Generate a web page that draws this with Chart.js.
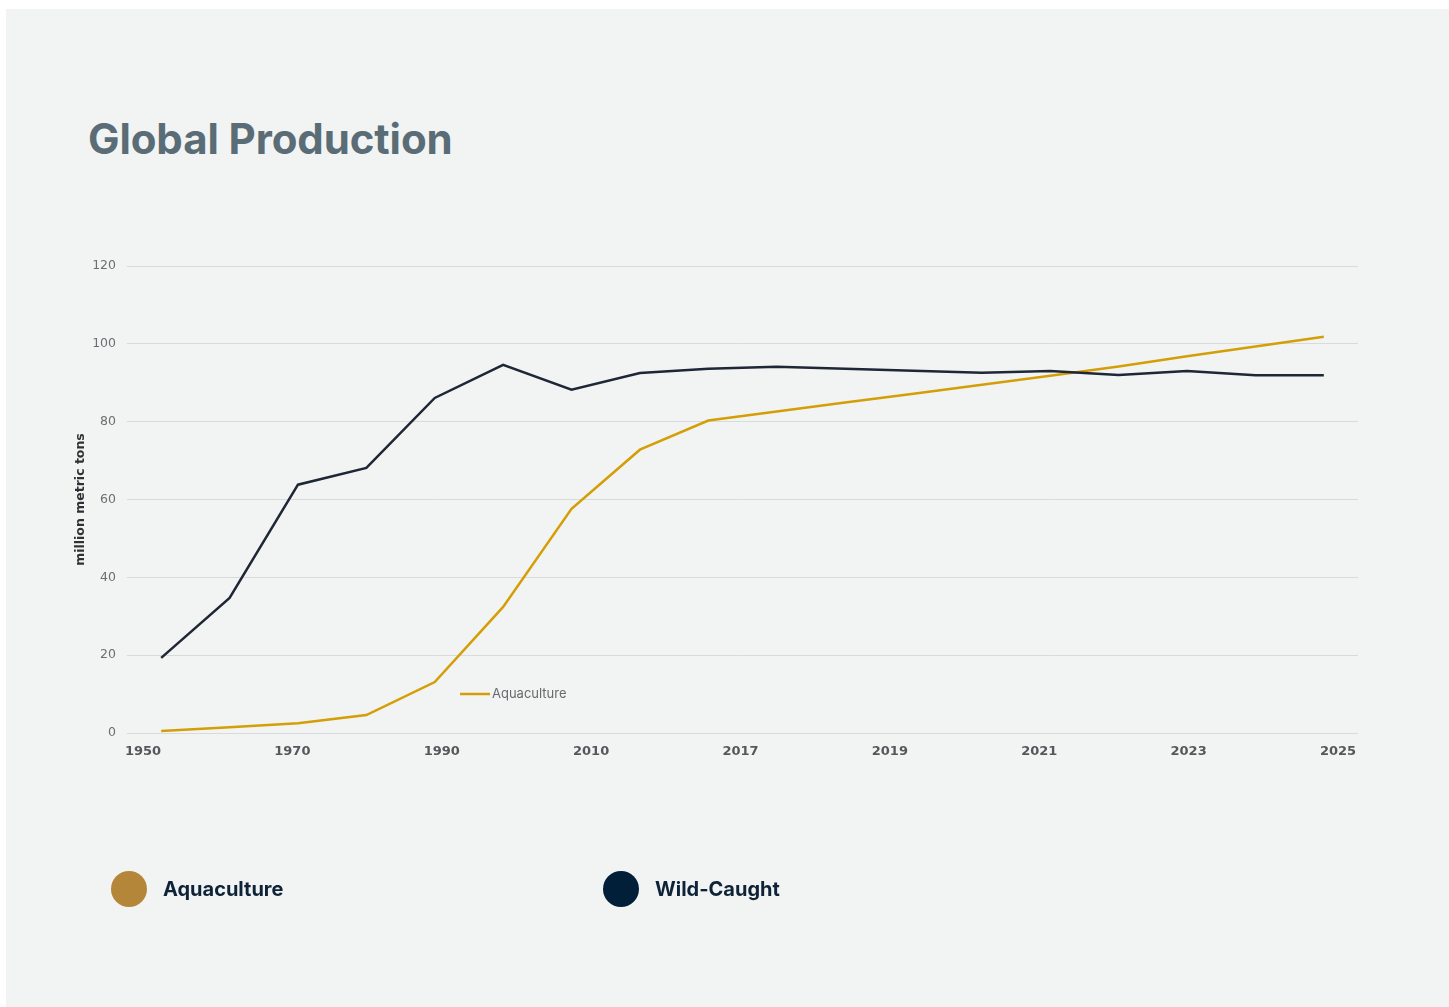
<!DOCTYPE html>
<html>
<head>
<meta charset="utf-8">
<script src="https://cdn.jsdelivr.net/npm/chart.js@4.4.1/dist/chart.umd.min.js"></script>
<style>
  html, body { margin: 0; padding: 0; background: #ffffff; }
  .panel {
    position: absolute; left: 6px; top: 9px; right: 0; bottom: 0;
    background: #f2f4f3; overflow: hidden;
  }
  .title {
    position: absolute; left: 82px; top: 104px;
    font-family: Inter, "Noto Sans", sans-serif; font-weight: 700;
    font-size: 42px; color: #5a6d76; letter-spacing: -0.1px;
  }
  .chartBox { position: absolute; left: -6px; top: -9px; width: 1449px; height: 1007px; }
  .legend { position: absolute; top: 862px; left: 0; font-family: Inter, sans-serif; }
  .legItem { position: absolute; display: flex; align-items: center; white-space: nowrap; }
  .dot { width: 36px; height: 36px; border-radius: 50%; margin-right: 16px; }
  .legItem span { font-size: 20px; font-weight: 700; color: #0e2238; }
</style>
</head>
<body>
<div class="panel">
  <div class="title">Global Production</div>
  <div class="chartBox"><canvas id="prodChart"></canvas></div>
  <div class="legend">
    <div class="legItem" style="left:105px"><div class="dot" style="background:#b3863a"></div><span>Aquaculture</span></div>
    <div class="legItem" style="left:597px"><div class="dot" style="background:#011f38"></div><span>Wild-Caught</span></div>
  </div>
</div>
<script>
// one point per period, 18 periods
let periods = ['P1','P2','P3','P4','P5','P6','P7','P8','P9','P10','P11','P12','P13','P14','P15','P16','P17','P18'];
let aquaculture = [0.5, 1.5, 2.5, 4.6, 13.1, 32.4, 57.6, 72.8, 80.3, 82.6, 84.9, 87.2, 89.5, 91.8, 94.2, 96.8, 99.3, 101.8];
let wildCaught = [19.3, 34.7, 63.8, 68.1, 86.1, 94.6, 88.2, 92.5, 93.6, 94.1, 93.6, 93.1, 92.6, 93.0, 92.0, 93.0, 91.9, 91.9];
let yearLabels = ['1950','1970','1990','2010','2017','2019','2021','2023','2025'];

let colorAqua = '#d49e06';
let colorWild = '#1f2636';
let colorNums = '#6b6f72';

// small in-chart legend sample for the aquaculture line
const lineTag = {
  id: 'lineTag',
  afterDatasetsDraw(chart){
    let ctx = chart.ctx;
    let a = chart.chartArea;
    let x = a.left + 333, y = a.bottom - 39;
    ctx.save();
    ctx.strokeStyle = colorAqua;
    ctx.lineWidth = 2.5;
    ctx.beginPath();
    ctx.moveTo(x, y);
    ctx.lineTo(x + 30, y);
    ctx.stroke();
    ctx.fillStyle = '#666a6d';
    ctx.font = '13px Inter, sans-serif';
    ctx.textBaseline = 'middle';
    ctx.fillText('Aquaculture', x + 32, y);
    ctx.restore();
  }
};

function create_graph(canvas){
  new Chart(canvas, {
    type: 'line',
    data: {
      labels: periods,
      datasets: [{
        label: 'Wild-Caught',
        data: wildCaught,
        borderColor: colorWild,
        backgroundColor: colorWild,
        borderWidth: 2.5,
        pointRadius: 0,
        tension: 0
      }, {
        label: 'Aquaculture',
        data: aquaculture,
        borderColor: colorAqua,
        backgroundColor: colorAqua,
        borderWidth: 2.5,
        pointRadius: 0,
        tension: 0
      }]
    },
    options: {
      responsive: false,
      animation: false,
      layout: { padding: { left: 60, right: 91, top: 266, bottom: 244 } },
      plugins: {
        legend: { display: false },
        tooltip: { enabled: false }
      },
      scales: {
        x: {
          display: false,
          offset: true
        },
        years: {
          type: 'linear',
          position: 'bottom',
          min: -0.107,
          max: 8.134,
          afterBuildTicks: (scale) => {
            scale.ticks = yearLabels.map((l, i) => ({ value: i }));
          },
          afterFit: (scale) => { scale.height = 30; },
          ticks: {
            autoSkip: false,
            maxRotation: 0,
            padding: 3,
            color: '#55585b',
            font: { family: 'DejaVu Sans', size: 13, weight: 'bold' },
            callback: (v) => yearLabels[v]
          },
          grid: { display: false },
          border: { display: false }
        },
        y: {
          min: 0,
          max: 120,
          afterFit: (scale) => { scale.width = 67; },
          ticks: {
            stepSize: 20,
            padding: 11,
            color: colorNums,
            font: { family: 'DejaVu Sans', size: 12.5 }
          },
          grid: { color: '#d8dbdb', lineWidth: 1, drawTicks: false },
          border: { display: false },
          title: {
            display: true,
            text: 'million metric tons',
            color: '#2e3234',
            font: { family: 'DejaVu Sans', size: 12.5, weight: 'bold' },
            padding: { top: 13 }
          }
        }
      }
    },
    plugins: [lineTag]
  });
}

let canvas = document.getElementById('prodChart');
canvas.width = 1449;
canvas.height = 1007;
create_graph(canvas);
</script>
</body>
</html>
